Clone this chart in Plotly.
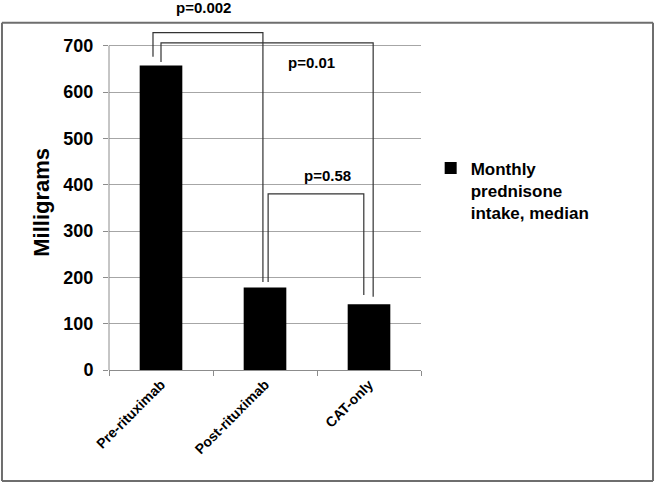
import plotly.graph_objects as go

categories = ["Pre-rituximab", "Post-rituximab", "CAT-only"]
values = [657, 178, 142]
series_name = "Monthly<br>prednisone<br>intake, median"
y_ticks = [0, 100, 200, 300, 400, 500, 600, 700]
comparisons = [(0, 1, "p=0.002"), (0, 2, "p=0.01"), (1, 2, "p=0.58")]

FONT = "Arial, Liberation Sans, sans-serif"
GRID = "#a6a6a6"
AXIS = "#8c8c8c"
FRAME = "#6e6e6e"

fig = go.Figure()
fig.add_trace(go.Bar(
    x=categories, y=values, name=series_name,
    marker=dict(color="black", line=dict(width=0)),
    width=0.41, showlegend=True,
))

# bracket geometry (style/position): left dx, right dx, top y, gap above left bar, gap above right bar
bracket_style = [
    dict(ldx=-0.077, rdx=-0.02, top=728, lgap=19, rgap=12, tx=0.41, ty=782),
    dict(ldx=0.0, rdx=0.04, top=706, lgap=8, rgap=16, tx=1.45, ty=663),
    dict(ldx=0.03, rdx=-0.05, top=380, lgap=12, rgap=20, tx=1.60, ty=419),
]
shapes = []
annotations = []
for (i, j, label), st in zip(comparisons, bracket_style):
    xl = i + st["ldx"]
    xr = j + st["rdx"]
    yl = values[i] + st["lgap"]
    yr = values[j] + st["rgap"]
    path = f"M {xl},{yl} L {xl},{st['top']} L {xr},{st['top']} L {xr},{yr}"
    shapes.append(dict(type="path", path=path, xref="x", yref="y",
                       line=dict(color="#333333", width=1.2), layer="above"))
    annotations.append(dict(x=st["tx"], y=st["ty"], xref="x", yref="y", text=f"<b>{label}</b>",
                            xanchor="center", yanchor="middle",
                            showarrow=False, font=dict(family=FONT, size=15, color="black")))

# y axis line only up to the top tick
shapes.append(dict(type="line", xref="paper", yref="y", x0=0, x1=0, y0=0, y1=y_ticks[-1],
                   line=dict(color=AXIS, width=1)))
# outer frame, drawn edge by edge
fx0, fx1, fy0, fy1 = -0.343, 1.7436, -0.3033, 0.949
for (a, b, c, d) in [(fx0, fy1, fx1, fy1), (fx0, fy0, fx1, fy0), (fx0, fy0, fx0, fy1), (fx1, fy0, fx1, fy1)]:
    shapes.append(dict(type="line", xref="paper", yref="paper", x0=a, y0=b, x1=c, y1=d,
                       line=dict(color=FRAME, width=2), layer="above"))

annotations.append(dict(x=-0.215, y=363, xref="paper", yref="y", text="<b>Milligrams</b>",
                        textangle=-90, showarrow=False, xanchor="center", yanchor="middle",
                        font=dict(family=FONT, size=22, color="black")))

fig.update_layout(
    width=656, height=482,
    margin=dict(l=109, r=235, t=4, b=112, autoexpand=False),
    paper_bgcolor="white", plot_bgcolor="white",
    font=dict(family=FONT, color="black"),
    shapes=shapes, annotations=annotations,
    legend=dict(x=1.031, y=0.6, xanchor="left", yanchor="top", valign="top",
                font=dict(family=FONT, size=17, color="black", weight="bold"),
                bgcolor="rgba(0,0,0,0)"),
    bargap=0.59,
)
fig.update_xaxes(
    type="category", range=[-0.5, 2.5], tickson="boundaries",
    ticks="outside", ticklen=5, tickcolor=AXIS, automargin=False,
    showline=True, linecolor=AXIS, linewidth=1, showgrid=False,
    tickangle=-45, tickfont=dict(family=FONT, size=14, color="black", weight="bold"),
)
fig.update_yaxes(
    range=[0, 790], tickvals=y_ticks, ticks="outside", ticklen=5, tickcolor=AXIS,
    showline=False, automargin=False,
    showgrid=True, gridcolor=GRID, gridwidth=1, zeroline=False,
    tickfont=dict(family=FONT, size=18, color="black", weight="bold"),
    ticklabelstandoff=6,
)

fig.write_html("out.html", config={"displayModeBar": False},
               post_script="document.body.style.margin='0';document.body.style.overflow='hidden';")
